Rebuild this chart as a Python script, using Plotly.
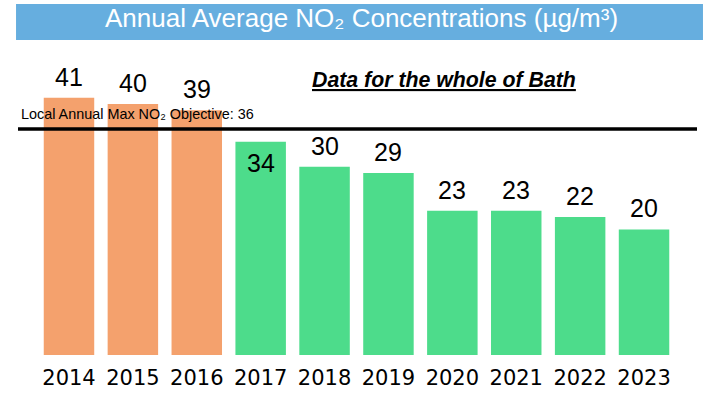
import plotly.graph_objects as go

years = ["2014", "2015", "2016", "2017", "2018", "2019", "2020", "2021", "2022", "2023"]
values = [41, 40, 39, 34, 30, 29, 23, 23, 22, 20]
bar_colors = ["#F4A16D"] * 3 + ["#4DDC8B"] * 7
objective = 36
title_text = "Annual Average NO₂ Concentrations (µg/m³)"
objective_text = "Local Annual Max NO₂ Objective: 36"
subtitle_text = "<b><i><u>Data for the whole of Bath</u></i></b>"

fig = go.Figure()
fig.add_trace(go.Bar(
    x=years, y=values, marker=dict(color=bar_colors, line=dict(width=0)),
    hoverinfo="skip",
))

annotations = []
for i, v in enumerate(values):
    inside = objective - 4 < v < objective
    annotations.append(dict(
        x=i, y=v, xref="x", yref="y", text=str(v), showarrow=False,
        xanchor="center",
        yanchor="top" if inside else "bottom", yshift=-5 if inside else 5,
        font=dict(family="Liberation Sans, Arial, sans-serif", size=25, color="#000000"),
    ))

annotations.append(dict(
    x=0.0015, y=objective, xref="paper", yref="y", text=objective_text,
    showarrow=False, xanchor="left", yanchor="bottom", yshift=5,
    font=dict(family="Liberation Sans, Arial, sans-serif", size=14.4, color="#000000"),
))
annotations.append(dict(
    x=0.6267, y=0.887, xref="paper", yref="paper", text=subtitle_text,
    showarrow=False, xanchor="center", yanchor="middle",
    font=dict(family="Liberation Sans, Arial, sans-serif", size=21.3, color="#000000"),
))
annotations.append(dict(
    x=0.5066, y=1.087, xref="paper", yref="paper", text=title_text,
    showarrow=False, xanchor="center", yanchor="middle",
    font=dict(family="Liberation Sans, Arial, sans-serif", size=26, color="#FFFFFF"),
))

shapes = [
    dict(type="rect", xref="paper", yref="paper", x0=-0.0029, x1=1.0088, y0=1.016, y1=1.132,
         fillcolor="#66AEDF", line=dict(width=0), layer="below"),
    dict(type="line", xref="paper", yref="y", x0=0, x1=1, y0=objective, y1=objective,
         line=dict(color="#000000", width=3.5)),
]

fig.update_layout(
    width=709, height=397,
    margin=dict(l=18, r=12, t=45, b=42, autoexpand=False),
    paper_bgcolor="#FFFFFF", plot_bgcolor="#FFFFFF",
    bargap=0.21, showlegend=False,
    annotations=annotations, shapes=shapes,
    xaxis=dict(type="category", range=[-0.798, 9.829], showgrid=False, zeroline=False,
               showline=False, ticks="", ticklabelstandoff=8, automargin=False,
               tickfont=dict(family="DejaVu Sans, sans-serif", size=21, color="#000000")),
    yaxis=dict(range=[0, 49.4], showgrid=False, zeroline=False, showline=False,
               showticklabels=False, ticks="", automargin=False),
)

fig.write_html("out.html", config={"displayModeBar": False},
               post_script="document.body.style.margin='0';document.body.style.padding='0';")
